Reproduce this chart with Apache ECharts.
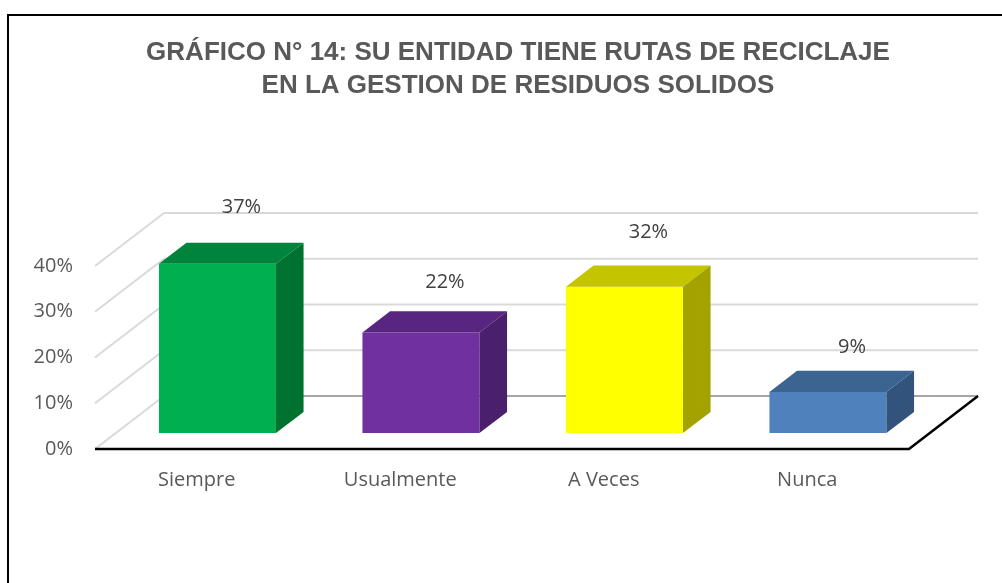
<!DOCTYPE html>
<html>
<head>
<meta charset="utf-8">
<script src="https://cdn.jsdelivr.net/npm/echarts@6/dist/echarts.min.js"></script>
<style>
  html, body { margin: 0; padding: 0; background: #fff; }
  #chart { width: 1002px; height: 583px; }
</style>
</head>
<body>
<div id="chart"></div>
<script>
const categories = ['Siempre', 'Usualmente', 'A Veces', 'Nunca'];
const values = [37, 22, 32, 9];
const yTicks = [0, 10, 20, 30, 40];

const frontColors = ['#00b050', '#7030a0', '#ffff00', '#4f81bd'];
const topColors = ['#00843c', '#582580', '#c4c400', '#3c6490'];
const sideColors = ['#00722f', '#4a1f6b', '#a3a300', '#32547c'];

// depth of the floor (pixels), bars sit between 30% and 70% of it
const DX = 69;
const DY = -53;
const F0 = 0.3;
const F1 = 0.7;
const labelColor = '#595959';

const myChart = echarts.init(document.getElementById('chart'));

function renderWall(params, api) {
  const cs = params.coordSys;
  const t = api.value(1);
  const y = api.coord([0, t])[1];
  const xl = cs.x;
  const xr = cs.x + cs.width;
  const children = [
    {
      type: 'line',
      shape: { x1: xl, y1: y, x2: xl + DX, y2: y + DY },
      style: { stroke: '#d9d9d9', lineWidth: 2 }
    },
    {
      type: 'line',
      shape: { x1: xl + DX, y1: y + DY, x2: xr + DX, y2: y + DY },
      style: { stroke: t === 0 ? '#a6a6a6' : '#d9d9d9', lineWidth: 2 }
    }
  ];
  if (t === 0) {
    children.push({
      type: 'polyline',
      shape: { points: [[xl, y], [xr, y], [xr + DX, y + DY]] },
      style: { stroke: '#000', lineWidth: 2.5, fill: null }
    });
  }
  return { type: 'group', children: children };
}

function renderBar(params, api) {
  const i = api.value(0);
  const v = api.value(1);
  const base = api.coord([i, 0]);
  const top = api.coord([i, v]);
  const w = api.size([1, 0])[0] * 0.575;
  const bx = DX * (F1 - F0);
  const by = DY * (F1 - F0);
  const x0 = base[0] - w / 2 + DX * F0;
  const x1 = x0 + w;
  const yb = base[1] + DY * F0;
  const yt = top[1] + DY * F0;
  // labels follow a slightly steeper perspective scale
  const ly = base[1] + (top[1] - base[1]) * 1.09 - 57;
  return {
    type: 'group',
    children: [
      {
        type: 'rect',
        shape: { x: x0, y: yt, width: w, height: yb - yt },
        style: { fill: frontColors[i] }
      },
      {
        type: 'polygon',
        shape: { points: [[x0, yt], [x1, yt], [x1 + bx, yt + by], [x0 + bx, yt + by]] },
        style: { fill: topColors[i] }
      },
      {
        type: 'polygon',
        shape: { points: [[x1, yt], [x1 + bx, yt + by], [x1 + bx, yb + by], [x1, yb]] },
        style: { fill: sideColors[i] }
      },
      {
        type: 'text',
        x: base[0] + DX * F0 + 24,
        y: ly,
        style: {
          text: v + '%',
          fill: '#404040',
          font: '20px "Open Sans"',
          align: 'center',
          verticalAlign: 'middle'
        }
      }
    ]
  };
}

const option = {
  animation: false,
  title: {
    text: 'GRÁFICO N° 14: SU ENTIDAD TIENE RUTAS DE RECICLAJE\nEN LA GESTION DE RESIDUOS SOLIDOS',
    left: 518,
    top: 36,
    padding: 0,
    textAlign: 'center',
    textStyle: {
      fontFamily: 'Liberation Sans',
      fontSize: 26,
      fontWeight: 'bold',
      color: labelColor,
      lineHeight: 33
    }
  },
  graphic: [
    {
      type: 'polyline',
      shape: { points: [[8, 600], [8, 15], [1010, 15]] },
      style: { stroke: '#000', lineWidth: 2, fill: null }
    }
  ],
  grid: {
    left: 95,
    right: 93,
    top: 266,
    bottom: 134
  },
  xAxis: {
    type: 'category',
    data: categories,
    axisLine: { show: false },
    axisTick: { show: false },
    axisLabel: {
      margin: 21,
      fontFamily: 'Open Sans',
      fontSize: 20,
      color: labelColor
    }
  },
  yAxis: {
    type: 'value',
    min: 0,
    max: 40,
    interval: 10,
    axisLine: { show: false },
    axisTick: { show: false },
    splitLine: { show: false },
    axisLabel: {
      margin: 22,
      formatter: '{value}%',
      fontFamily: 'Open Sans',
      fontSize: 20,
      color: labelColor
    }
  },
  series: [
    {
      type: 'custom',
      renderItem: renderWall,
      clip: false,
      silent: true,
      data: yTicks.map(function (t) { return [0, t]; }),
      z: 1
    },
    {
      type: 'custom',
      renderItem: renderBar,
      clip: false,
      data: values.map(function (v, i) { return [i, v]; }),
      z: 2
    }
  ]
};

myChart.setOption(option);
window.addEventListener('resize', myChart.resize);
</script>
</body>
</html>
